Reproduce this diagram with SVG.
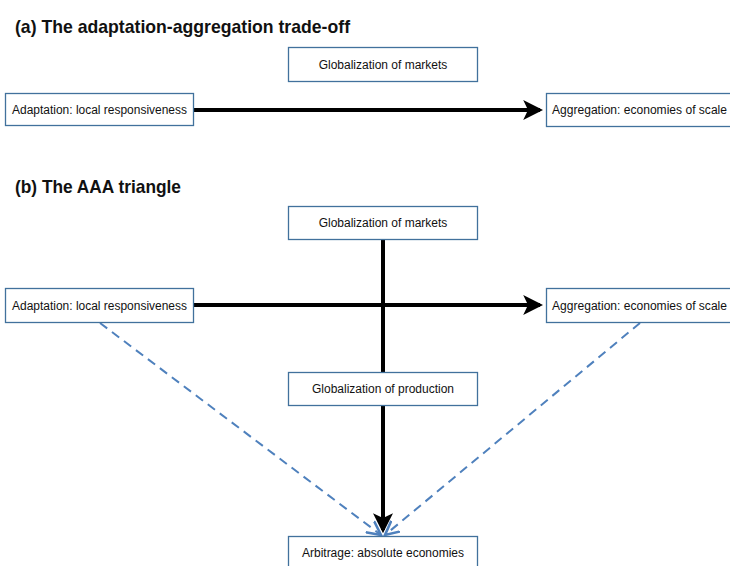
<svg xmlns="http://www.w3.org/2000/svg" width="730" height="566" viewBox="0 0 730 566">
<style>
.box{fill:#fff;stroke:#41719c;stroke-width:1.3}
.lbl{font-family:"Liberation Sans","Open Sans",sans-serif;font-size:12px;fill:#111;text-anchor:middle;dominant-baseline:central}
.ttl{font-family:"Liberation Sans","Open Sans",sans-serif;font-size:19px;font-weight:bold;fill:#111}
.main{stroke:#000;stroke-width:4;fill:none}
.shadow{stroke:#000;stroke-opacity:0.22;stroke-width:5;fill:none;filter:url(#blur)}
.dash{stroke:#4f81bd;stroke-width:2;stroke-dasharray:9,6;fill:none}
</style>
<defs>
<filter id="blur" x="-10%" y="-50%" width="120%" height="200%"><feGaussianBlur stdDeviation="1.2"/></filter>
<marker id="ah" markerWidth="5" markerHeight="5" refX="4.2" refY="2.5" orient="auto" markerUnits="strokeWidth">
<path d="M0,0 L5,2.5 L0,5 L1.2,2.5 Z" fill="#000"/>
</marker>
<marker id="ahb" markerWidth="8" markerHeight="8" refX="7" refY="4" orient="auto" markerUnits="strokeWidth">
<path d="M0,0.5 L7,4 L0,7.5" fill="none" stroke="#4f81bd" stroke-width="1.3"/>
</marker>
</defs>

<text class="ttl" x="15" y="33" textLength="335" lengthAdjust="spacingAndGlyphs">(a) The adaptation-aggregation trade-off</text>
<text class="ttl" x="15" y="193" textLength="166" lengthAdjust="spacingAndGlyphs">(b) The AAA triangle</text>

<g id="connectors">
<line class="shadow" x1="194" y1="112.5" x2="530" y2="112.5"/>
<line class="main" x1="194" y1="110" x2="540" y2="110" marker-end="url(#ah)"/>

<line class="dash" x1="100" y1="323" x2="381" y2="535" marker-end="url(#ahb)"/>
<line class="dash" x1="640" y1="323" x2="385" y2="535" marker-end="url(#ahb)"/>

<line class="shadow" x1="385.5" y1="240" x2="385.5" y2="525"/>
<line class="shadow" x1="194" y1="307.5" x2="530" y2="307.5"/>
<line class="main" x1="383" y1="240" x2="383" y2="372"/>
<line class="main" x1="194" y1="305" x2="540" y2="305" marker-end="url(#ah)"/>
<line class="main" x1="383" y1="405" x2="383" y2="530" marker-end="url(#ah)"/>
</g>

<g id="a-markets"><rect class="box" x="288.5" y="47.5" width="189" height="34"/><text class="lbl" x="383" y="65">Globalization of markets</text></g>
<g id="a-adaptation"><rect class="box" x="5.5" y="93.5" width="188" height="32"/><text class="lbl" x="99.5" y="110" textLength="175" lengthAdjust="spacingAndGlyphs">Adaptation: local responsiveness</text></g>
<g id="a-aggregation"><rect class="box" x="546.5" y="93.5" width="190" height="33"/><text class="lbl" x="639.5" y="110" textLength="175" lengthAdjust="spacingAndGlyphs">Aggregation: economies of scale</text></g>

<g id="b-markets"><rect class="box" x="288.5" y="206.5" width="189" height="33"/><text class="lbl" x="383" y="223">Globalization of markets</text></g>
<g id="b-adaptation"><rect class="box" x="5.5" y="288.5" width="188" height="34"/><text class="lbl" x="99.5" y="305.5" textLength="175" lengthAdjust="spacingAndGlyphs">Adaptation: local responsiveness</text></g>
<g id="b-aggregation"><rect class="box" x="546.5" y="288.5" width="190" height="34"/><text class="lbl" x="639.5" y="305.5" textLength="175" lengthAdjust="spacingAndGlyphs">Aggregation: economies of scale</text></g>
<g id="b-production"><rect class="box" x="288.5" y="372.5" width="189" height="33"/><text class="lbl" x="383" y="389">Globalization of production</text></g>
<g id="b-arbitrage"><rect class="box" x="288.5" y="536.5" width="189" height="40"/><text class="lbl" x="383" y="553">Arbitrage: absolute economies</text></g>
</svg>
